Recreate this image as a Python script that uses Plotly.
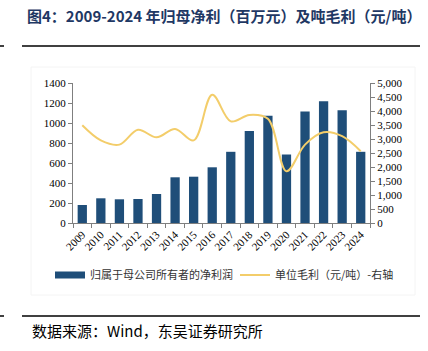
import plotly.graph_objects as go

years = [str(y) for y in range(2009, 2025)]
net_profit = [180, 247, 237, 240, 290, 457, 463, 557, 712, 920, 1072, 685, 1115, 1218, 1128, 712]
gross_per_ton = [3490, 2950, 2800, 3330, 3060, 3360, 2950, 4580, 3630, 3860, 3720, 1850, 2800, 3240, 3100, 2560]

bar_name = "归属于母公司所有者的净利润"
line_name = "单位毛利（元/吨）-右轴"
title_text = "图4：2009-2024 年归母净利（百万元）及吨毛利（元/吨）"
source_text = "数据来源：Wind，东吴证券研究所"

serif = "Liberation Serif, Times New Roman, serif"
cjk = "Noto Sans CJK SC"
bar_color = "#1F4E79"
line_color = "#F3CD6A"

fig = go.Figure()
fig.add_trace(go.Bar(x=years, y=net_profit, name=bar_name, showlegend=False,
                     marker=dict(color=bar_color, line=dict(width=0)), width=0.5))
# legend-only entry drawn as a wide band, like the reference legend key
fig.add_trace(go.Scatter(x=[years[0]], y=[None], name=bar_name, mode="lines",
                         line=dict(color=bar_color, width=7), legend="legend"))
fig.add_trace(go.Scatter(x=years, y=gross_per_ton, name=line_name, yaxis="y2",
                         mode="lines", legend="legend2",
                         line=dict(color=line_color, width=2, shape="spline", smoothing=1.0)))

W, H = 428, 351
L, R, T, B = 73, 58, 83, 128
pw, ph = W - L - R, H - T - B

def px(x):
    return (x - L) / pw

def py(y):
    return (H - B - y) / ph

axis_common = dict(showline=True, linecolor="#7f7f7f", linewidth=1, ticks="outside",
                   ticklen=4, tickcolor="#7f7f7f", showgrid=False, zeroline=False,
                   tickfont=dict(family=serif, size=11, color="#000"))

legend_common = dict(orientation="h", yanchor="middle", xanchor="left",
                     font=dict(family=cjk, size=11, color="#333"), bgcolor="rgba(0,0,0,0)",
                     itemwidth=30)

fig.update_layout(
    width=W, height=H,
    margin=dict(l=L, r=R, t=T, b=B),
    plot_bgcolor="white", paper_bgcolor="white",
    xaxis=dict(**axis_common, tickangle=-45, tickson="boundaries", type="category"),
    yaxis=dict(**axis_common, range=[0, 1400], dtick=200),
    yaxis2=dict(**axis_common, range=[0, 5000], dtick=500, overlaying="y", side="right",
                tickformat=","),
    showlegend=True,
    legend=dict(**legend_common, x=px(50), y=py(275)),
    legend2=dict(**legend_common, x=px(235), y=py(275)),
    annotations=[
        dict(text=title_text, x=px(224), y=py(16), xref="paper", yref="paper",
             showarrow=False, xanchor="center", yanchor="middle",
             font=dict(family=cjk, size=15, color="#1F3864", weight="bold")),
        dict(text=source_text, x=px(30), y=py(330), xref="paper", yref="paper",
             showarrow=False, xanchor="left", yanchor="middle",
             font=dict(family=cjk, size=15, color="#000")),
    ],
    shapes=[
        dict(type="line", xref="paper", yref="paper", x0=px(22), x1=px(420), y0=py(46), y1=py(46),
             line=dict(color="#000", width=1.5)),
        dict(type="line", xref="paper", yref="paper", x0=px(0), x1=px(4), y0=py(46), y1=py(46),
             line=dict(color="#000", width=1.5)),
        dict(type="line", xref="paper", yref="paper", x0=px(22), x1=px(420), y0=py(316), y1=py(316),
             line=dict(color="#000", width=1.5)),
        dict(type="line", xref="paper", yref="paper", x0=px(0), x1=px(4), y0=py(316), y1=py(316),
             line=dict(color="#000", width=1.5)),
        dict(type="rect", xref="paper", yref="paper", x0=px(31), x1=px(415), y0=py(67), y1=py(295),
             line=dict(color="#f4f4f4", width=1)),
    ],
)

fig.write_html("out.html")
